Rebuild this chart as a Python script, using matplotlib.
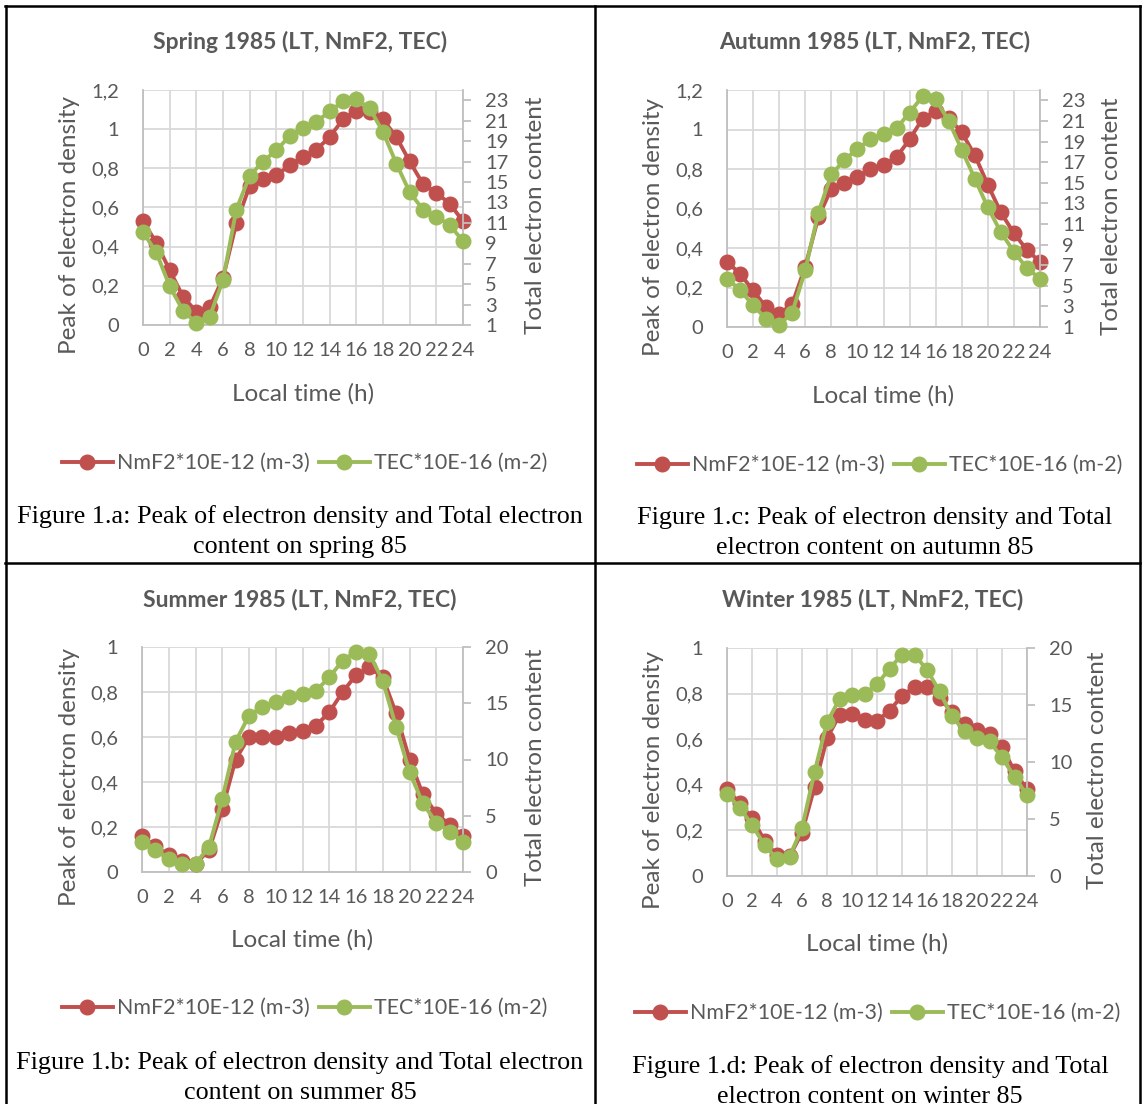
import numpy as np
import matplotlib
matplotlib.use('Agg')
import matplotlib.pyplot as plt
from matplotlib.ticker import FuncFormatter
from matplotlib.lines import Line2D

# Datos (hora local 0..24)
hours = list(range(25))

spring_nmf2 = [0.53, 0.42, 0.28, 0.145, 0.068, 0.09, 0.24, 0.52, 0.71, 0.745, 0.765, 0.815, 0.86,
               0.895, 0.96, 1.05, 1.095, 1.09, 1.05, 0.96, 0.835, 0.72, 0.675, 0.62, 0.53]
spring_tec = [10.1, 8.1, 4.8, 2.4, 1.2, 1.8, 5.4, 12.3, 15.6, 17.0, 18.1, 19.5, 20.3,
              20.9, 21.9, 22.9, 23.1, 22.2, 19.9, 16.8, 14.0, 12.3, 11.6, 10.8, 9.2]

autumn_nmf2 = [0.33, 0.27, 0.185, 0.1, 0.066, 0.116, 0.305, 0.555, 0.70, 0.73, 0.76, 0.80, 0.82,
               0.86, 0.95, 1.055, 1.095, 1.06, 0.985, 0.87, 0.72, 0.58, 0.475, 0.39, 0.33]
autumn_tec = [5.7, 4.6, 3.1, 1.8, 1.2, 2.4, 6.5, 12.1, 15.8, 17.2, 18.3, 19.2, 19.7,
              20.3, 21.8, 23.4, 23.1, 21.0, 18.2, 15.4, 12.6, 10.2, 8.3, 6.7, 5.7]

summer_nmf2 = [0.16, 0.115, 0.075, 0.047, 0.037, 0.096, 0.28, 0.50, 0.60, 0.60, 0.60, 0.62, 0.625,
               0.65, 0.71, 0.80, 0.875, 0.91, 0.865, 0.705, 0.50, 0.345, 0.26, 0.21, 0.16]
summer_tec = [2.7, 2.0, 1.2, 0.75, 0.75, 2.2, 6.5, 11.6, 13.9, 14.7, 15.1, 15.6, 15.8,
              16.1, 17.3, 18.8, 19.6, 19.4, 17.0, 12.9, 8.9, 6.1, 4.4, 3.6, 2.7]

winter_nmf2 = [0.38, 0.32, 0.255, 0.155, 0.09, 0.086, 0.19, 0.39, 0.605, 0.705, 0.71, 0.685, 0.68,
               0.725, 0.79, 0.83, 0.83, 0.78, 0.72, 0.665, 0.64, 0.625, 0.565, 0.46, 0.38]
winter_tec = [7.2, 6.0, 4.5, 2.7, 1.5, 1.7, 4.2, 9.1, 13.5, 15.5, 15.9, 16.0, 16.8,
              18.2, 19.4, 19.4, 18.1, 16.2, 14.0, 12.7, 12.1, 11.8, 10.4, 8.7, 7.1]

titles = ['Spring 1985 (LT, NmF2, TEC)', 'Autumn 1985 (LT, NmF2, TEC)',
          'Summer 1985 (LT, NmF2, TEC)', 'Winter 1985 (LT, NmF2, TEC)']
captions = [['Figure 1.a: Peak of electron density and Total electron', 'content on spring 85'],
            ['Figure 1.c: Peak of electron density and Total', 'electron content on autumn 85'],
            ['Figure 1.b: Peak of electron density and Total electron', 'content on summer 85'],
            ['Figure 1.d: Peak of electron density and Total', 'electron content on winter 85']]
legend_labels = ['NmF2*10E-12 (m-3)', 'TEC*10E-16 (m-2)']

RED = '#C0504D'
GREEN = '#9BBB59'
GRID = '#D9D9D9'
AXC = '#BFBFBF'
TXT = '#595959'
W, H = 1142, 1104
FONT = 'Lato'

fig = plt.figure(figsize=(W / 100, H / 100), dpi=100)
fig.patch.set_facecolor('white')


def px_rect(x0, y0, x1, y1):
    return [x0 / W, 1 - y1 / H, (x1 - x0) / W, (y1 - y0) / H]


def ftext(x, y, s, **kw):
    fig.text(x / W, 1 - y / H, s, **kw)


comma = FuncFormatter(lambda v, p: ('%g' % round(v, 2)).replace('.', ','))

# (nmf2, tec, caja del grafico, limites izq, ticks izq, limites der, ticks der, pos de textos)
panels = [
    dict(n=spring_nmf2, t=spring_tec, box=(143, 90, 463, 325), yl=(0, 1.2), ylt=np.arange(0, 1.21, 0.2),
         yr=(1, 24), yrt=range(1, 24, 2), cx=300, ty=42, xly=394, legy=463, capy=517, ylx=70, yrx=535),
    dict(n=autumn_nmf2, t=autumn_tec, box=(727, 90, 1040, 327), yl=(0, 1.2), ylt=np.arange(0, 1.21, 0.2),
         yr=(1, 24), yrt=range(1, 24, 2), cx=875, ty=42, xly=396, legy=465, capy=518, ylx=653, yrx=1112),
    dict(n=summer_nmf2, t=summer_tec, box=(142, 647, 463, 872), yl=(0, 1.0), ylt=np.arange(0, 1.01, 0.2),
         yr=(0, 20), yrt=range(0, 21, 5), cx=300, ty=600, xly=940, legy=1008, capy=1063, ylx=70, yrx=535),
    dict(n=winter_nmf2, t=winter_tec, box=(727, 648, 1027, 876), yl=(0, 1.0), ylt=np.arange(0, 1.01, 0.2),
         yr=(0, 20), yrt=range(0, 21, 5), cx=873, ty=600, xly=944, legy=1013, capy=1067, ylx=653, yrx=1097),
]

for i, p in enumerate(panels):
    x0, y0, x1, y1 = p['box']
    ax = fig.add_axes(px_rect(x0, y0, x1, y1))
    ax2 = ax.twinx()

    ax.set_xlim(0, 24)
    ax.set_ylim(*p['yl'])
    ax.set_xticks(range(0, 25, 2))
    ax.set_yticks(p['ylt'])
    ax.yaxis.set_major_formatter(comma)
    ax.grid(True, color=GRID, lw=1.3)
    ax.set_axisbelow(True)
    for s in ['top', 'right']:
        ax.spines[s].set_visible(False)
    for s in ['left', 'bottom']:
        ax.spines[s].set_color(AXC)
        ax.spines[s].set_linewidth(1.3)
    ax.tick_params(length=0, labelsize=14.5, labelcolor=TXT, pad=12)
    ax.tick_params(axis='y', pad=17)
    for lab in ax.get_xticklabels() + ax.get_yticklabels():
        lab.set_fontfamily(FONT)

    ax2.set_ylim(*p['yr'])
    ax2.set_yticks(list(p['yrt']))
    for s in ['top', 'left', 'bottom']:
        ax2.spines[s].set_visible(False)
    ax2.spines['right'].set_color(AXC)
    ax2.spines['right'].set_linewidth(1.3)
    ax2.tick_params(axis='y', length=6, width=1.3, color=AXC, labelsize=14.5, labelcolor=TXT, pad=10)
    for lab in ax2.get_yticklabels():
        lab.set_fontfamily(FONT)

    ax.plot(hours, p['n'], color=RED, lw=2.8, marker='o', ms=10.5, zorder=3, clip_on=False)
    ax2.plot(hours, p['t'], color=GREEN, lw=2.8, marker='o', ms=10.5, zorder=3, clip_on=False)

    ymid = (y0 + y1) / 2
    ftext(p['cx'], p['ty'], titles[i], ha='center', va='center', fontsize=16.5,
          fontweight='bold', color=TXT, family=FONT)
    ftext((x0 + x1) / 2, p['xly'], 'Local time (h)', ha='center', va='center',
          fontsize=17.5, color=TXT, family=FONT)
    ftext(p['ylx'], ymid + 18, 'Peak of electron density', ha='center', va='center', rotation=90,
          fontsize=17.5, color=TXT, family=FONT)
    ftext(p['yrx'], ymid + 8, 'Total electron content', ha='center', va='center', rotation=90,
          fontsize=17.5, color=TXT, family=FONT)

    handles = [Line2D([], [], color=RED, lw=2.8, marker='o', ms=10.5),
               Line2D([], [], color=GREEN, lw=2.8, marker='o', ms=10.5)]
    fig.legend(handles, legend_labels, loc='center', bbox_to_anchor=(p['cx'] / W + 0.004, 1 - p['legy'] / H),
               ncol=2, frameon=False, handlelength=2.4, handletextpad=0.2, columnspacing=0.4,
               prop={'family': FONT, 'size': 15.4}, labelcolor=TXT)

    for k, line in enumerate(captions[i]):
        ftext(p['cx'] if i != 3 else 870, p['capy'] + 30 * k, line, ha='center', va='center',
              fontsize=18.8, family='Liberation Serif', color='black')

# bordes de la tabla
for xs, ys in [((5, 1140), (6, 6)), ((5, 1140), (563, 563)), ((6, 6), (6, 1104)),
               ((595, 595), (6, 1104)), ((1140, 1140), (6, 1104))]:
    fig.add_artist(Line2D([x / W for x in xs], [1 - y / H for y in ys], color='black', lw=1.8))

fig.savefig('out.png', dpi=100)
